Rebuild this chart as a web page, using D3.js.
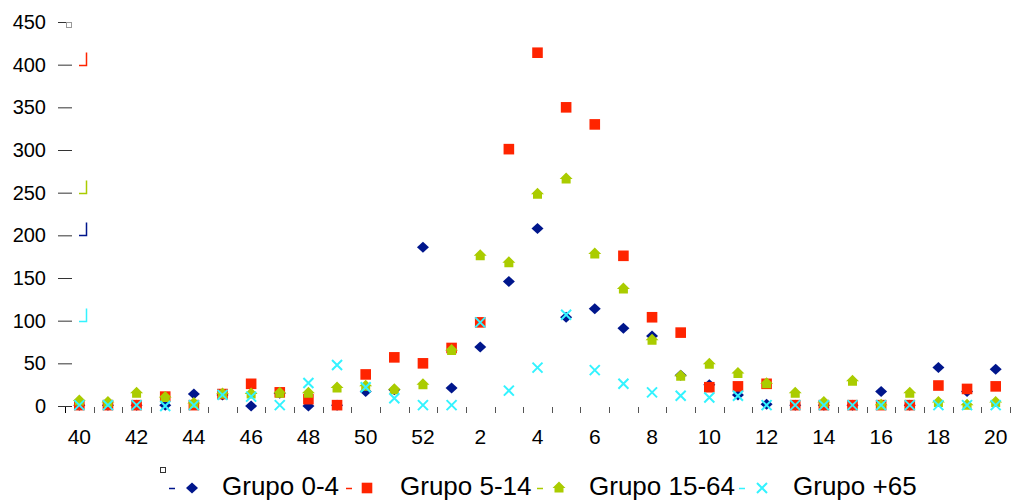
<!DOCTYPE html>
<html>
<head>
<meta charset="utf-8">
<script src="https://cdn.jsdelivr.net/npm/d3@7"></script>
<style>
  html, body { margin: 0; padding: 0; background: #fff; }
  svg { display: block; font-family: "Liberation Sans", Arial, sans-serif; }
</style>
</head>
<body>
<svg id="chart" width="1013" height="501"></svg>
<script>
// ---- data ----
const weeks = ["40","41","42","43","44","45","46","47","48","49","50","51","52",
  "1","2","3","4","5","6","7","8","9","10","11","12","13","14","15","16","17","18","19","20"];
const xTickLabels = ["40","42","44","46","48","50","52","2","4","6","8","10","12","14","16","18","20"];
const yTickValues = [0,50,100,150,200,250,300,350,400,450];
const seriesNames = ["Grupo 0-4","Grupo 5-14","Grupo 15-64","Grupo +65"];
const grupo0_4   = [1,1,1,1,14,13,0,15,0,1,17,19,186,21,69,146,208,104,114,91,82,36,25,13,2,1,1,1,17,1,45,17,43];
const grupo5_14  = [1,1,1,11,1,14,26,16,8,1,37,57,50,68,98,301,414,350,330,176,104,86,22,23,26,1,1,1,1,1,24,20,23];
const grupo15_64 = [6,4,15,10,3,14,14,15,15,21,23,19,25,65,176,168,248,266,178,137,77,35,49,38,26,15,4,29,1,15,4,1,4];
const grupo65    = [1,1,1,0,1,13,11,1,27,48,22,9,1,1,98,18,45,107,42,26,16,12,10,12,1,1,1,1,1,1,1,1,1];
const seriesColors = ["#00168C","#FF2400","#AACC00","#33F3FF"];

const svg = d3.select("#chart");
const x = d3.scaleBand().domain(weeks).range([65, 1010]);
const y = d3.scaleLinear().domain([0, 450]).range([406, 22]);

// ---- y axis ----
const yAxis = svg.append("g").attr("transform", "translate(72,0)")
  .call(d3.axisLeft(y).tickValues(yTickValues).tickSize(14).tickPadding(12));
yAxis.select(".domain").remove();
yAxis.selectAll(".tick line").attr("stroke", "#333");
yAxis.selectAll(".tick text").attr("font-size", 20).attr("fill", "#000")
  .attr("font-family", "Liberation Sans, Arial, sans-serif");

// ---- x axis (labels) ----
const xAxis = svg.append("g").attr("transform", "translate(0,406)")
  .call(d3.axisBottom(x).tickValues(xTickLabels).tickSize(0).tickPadding(23));
xAxis.select(".domain").remove();
xAxis.selectAll(".tick text").attr("font-size", 21).attr("fill", "#000")
  .attr("font-family", "Liberation Sans, Arial, sans-serif");

// x category boundary ticks
const bounds = weeks.map(w => x(w)).concat([x.range()[1]]);
svg.append("g").selectAll("line").data(bounds).join("line")
  .attr("x1", d => Math.round(d) + 0.5).attr("x2", d => Math.round(d) + 0.5)
  .attr("y1", 407).attr("y2", 413)
  .attr("stroke", (d, i) => i === 0 ? "#000" : "#555").attr("stroke-width", 1);

// ---- markers ----
const diamond = "M0,-5.5L6,0L0,5.5L-6,0Z";
const square = "M-5.3,-5.3H5.3V5.3H-5.3Z";
const house = "M0,-6.5L6.5,0H4.5V4.5H-4.5V0H-6.5Z";
const cross = "M-5,-5L5,5M-5,5L5,-5";

function drawSeries(values, color, shape) {
  const g = svg.append("g");
  g.selectAll("path").data(values).join("path")
    .attr("transform", (d, i) => `translate(${x(weeks[i]) + x.bandwidth() / 2},${y(d)})`)
    .attr("d", shape)
    .attr("fill", shape === cross ? "none" : color)
    .attr("stroke", shape === cross ? color : "none")
    .attr("stroke-width", 2);
}
drawSeries(grupo0_4, seriesColors[0], diamond);
drawSeries(grupo5_14, seriesColors[1], square);
drawSeries(grupo15_64, seriesColors[2], house);
drawSeries(grupo65, seriesColors[3], cross);

// ---- small artifacts beside the y axis ----
svg.append("rect").attr("x", 66.5).attr("y", 22.5).attr("width", 5).attr("height", 5)
  .attr("fill", "none").attr("stroke", "#999").attr("stroke-width", 1);
const brackets = [[400, 1], [250, 2], [200, 0], [100, 3]];
brackets.forEach(([v, ci]) => {
  const yy = Math.round(y(v)) + 0.5;
  svg.append("path").attr("d", `M79,${yy}H86.5V${yy - 13}`)
    .attr("fill", "none").attr("stroke", seriesColors[ci]).attr("stroke-width", 1.5);
});

// ---- legend ----
const legend = svg.append("g");
legend.append("rect").attr("x", 160.5).attr("y", 467.5).attr("width", 5).attr("height", 5)
  .attr("fill", "none").attr("stroke", "#333").attr("stroke-width", 1);
const legendX = [169, 346, 537, 739];
const legendMarkerX = [192, 367, 559, 762];
const legendTextX = [222, 400, 589, 793];
const shapes = [diamond, square, house, cross];
seriesNames.forEach((name, i) => {
  legend.append("line").attr("x1", legendX[i]).attr("x2", legendX[i] + 6)
    .attr("y1", 488.5).attr("y2", 488.5).attr("stroke", seriesColors[i]).attr("stroke-width", 1.5);
  legend.append("path").attr("transform", `translate(${legendMarkerX[i]},488)`)
    .attr("d", shapes[i])
    .attr("fill", shapes[i] === cross ? "none" : seriesColors[i])
    .attr("stroke", shapes[i] === cross ? seriesColors[i] : "none")
    .attr("stroke-width", 2);
  legend.append("text").attr("x", legendTextX[i]).attr("y", 495)
    .attr("font-size", 26).attr("fill", "#000").text(name);
});
</script>
</body>
</html>
